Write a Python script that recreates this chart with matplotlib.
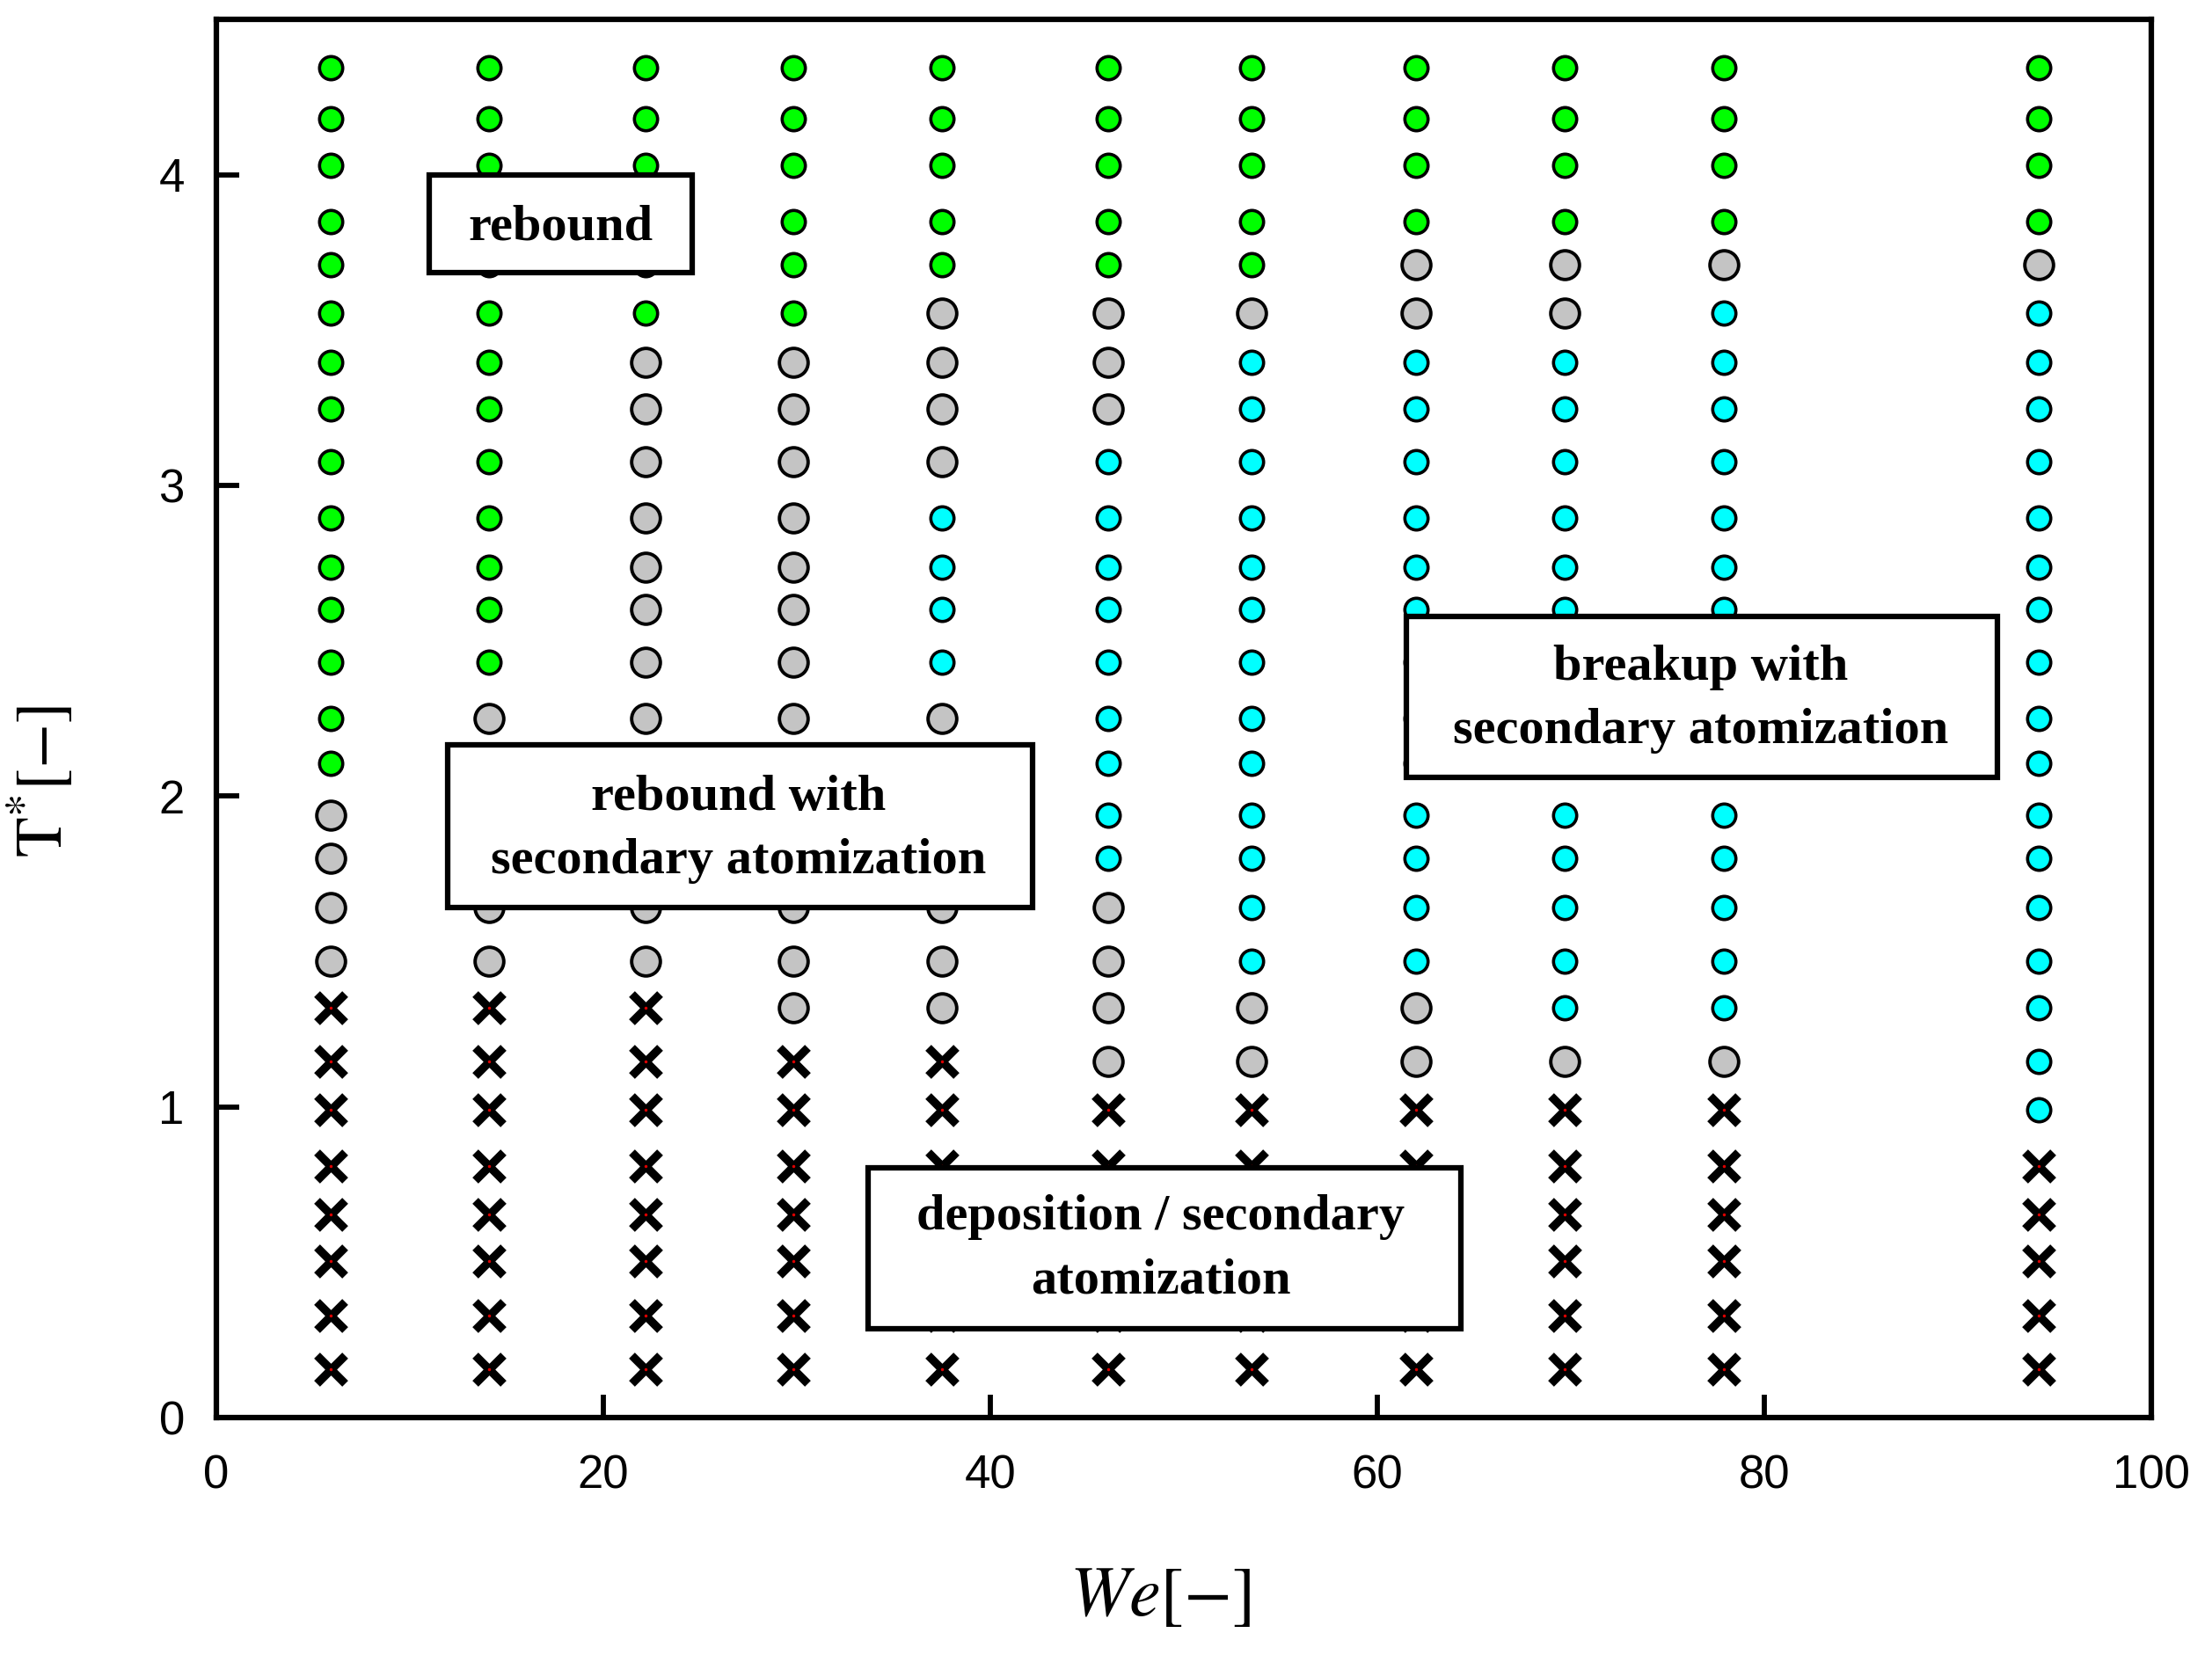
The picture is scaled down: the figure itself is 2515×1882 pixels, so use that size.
import matplotlib
matplotlib.use("Agg")
import matplotlib.pyplot as plt
from matplotlib.patches import Rectangle
import numpy as np

plt.rcParams['mathtext.fontset'] = 'stix'

# ---- data ----
we_values = [5.9, 14.1, 22.2, 29.8, 37.5, 46.1, 53.5, 62.0, 69.7, 77.9, 94.2]
t_values = [4.345, 4.18, 4.03, 3.85, 3.71, 3.555, 3.395, 3.245, 3.077, 2.895,
            2.736, 2.60, 2.43, 2.25, 2.105, 1.94, 1.80, 1.64, 1.47, 1.32,
            1.145, 0.99, 0.81, 0.655, 0.505, 0.327, 0.155]
# G = rebound, S = rebound with secondary atomization,
# C = breakup with secondary atomization, X = deposition / secondary atomization
regimes = [
    "GGGGGGGGGGGGGGG" + "SSSS" + "XXXXXXXX",           # 5.9
    "GGGGGGGGGGGGG" + "SSSSSS" + "XXXXXXXX",           # 14.1
    "GGGGGG" + "SSSSSSSSSSSSS" + "XXXXXXXX",           # 22.2
    "GGGGGG" + "SSSSSSSSSSSSSS" + "XXXXXXX",           # 29.8
    "GGGGG" + "SSSS" + "CCCC" + "SSSSSSS" + "XXXXXXX", # 37.5
    "GGGGG" + "SSS" + "CCCCCCCCC" + "SSSS" + "XXXXXX", # 46.1
    "GGGGG" + "S" + "CCCCCCCCCCCCC" + "SS" + "XXXXXX", # 53.5
    "GGGG" + "SS" + "CCCCCCCCCCCCC" + "SS" + "XXXXXX", # 62.0
    "GGGG" + "SS" + "CCCCCCCCCCCCCC" + "S" + "XXXXXX", # 69.7
    "GGGG" + "S" + "CCCCCCCCCCCCCCC" + "S" + "XXXXXX", # 77.9
    "GGGG" + "S" + "CCCCCCCCCCCCCCCCC" + "XXXXX",      # 94.2
]
region_labels = ["rebound", "rebound with\nsecondary atomization",
                 "breakup with\nsecondary atomization",
                 "deposition / secondary\natomization"]
x_ticks = [0, 20, 40, 60, 80, 100]
y_ticks = [0, 1, 2, 3, 4]

# ---- figure ----
fig = plt.figure(figsize=(25.15, 18.82), dpi=100)
ax = fig.add_axes([0.0978, 0.1435, 0.8748, 0.8448])

pts = {k: ([], []) for k in "GSCX"}
for we, col in zip(we_values, regimes):
    for t, r in zip(t_values, col):
        pts[r][0].append(we)
        pts[r][1].append(t)

ax.plot(pts["G"][0], pts["G"][1], 'o', ms=19, mfc='#00FF00', mec='black', mew=2.6, ls='none', zorder=3)
ax.plot(pts["S"][0], pts["S"][1], 'o', ms=23.5, mfc='#C4C4C4', mec='black', mew=2.8, ls='none', zorder=3)
ax.plot(pts["C"][0], pts["C"][1], 'o', ms=19, mfc='#00FFFF', mec='black', mew=2.6, ls='none', zorder=3)
ax.plot(pts["X"][0], pts["X"][1], 'x', ms=23, mec='black', mew=6.8, ls='none', zorder=3)
ax.plot(pts["X"][0], pts["X"][1], '.', ms=3, color='#DD0000', ls='none', zorder=4)

# region boxes
boxes = [(11.0, 3.686, 13.6, 0.314, 17.8, 3.830),
         (11.95, 1.641, 30.25, 0.523, 27.0, 1.893),
         (61.5, 2.059, 30.55, 0.518, 76.7, 2.313),
         (33.67, 0.286, 30.63, 0.519, 48.8, 0.543)]
for (x0, y0, w, h, tx, ty), lab in zip(boxes, region_labels):
    ax.add_patch(Rectangle((x0, y0), w, h, facecolor='white', edgecolor='black',
                           lw=4.5, zorder=5))
    ax.text(tx, ty, lab, ha='center', va='center', fontsize=42,
            family='Liberation Serif', fontweight='bold', linespacing=1.5, zorder=6)

ax.set_xlim(0, 100)
ax.set_ylim(0, 4.5)
ax.set_xticks(x_ticks)
ax.set_yticks(y_ticks)
ax.tick_params(direction='in', length=19, width=4.2, labelsize=38, pad=26)
ax.tick_params(axis='x', pad=30)
for lab in ax.get_xticklabels() + ax.get_yticklabels():
    lab.set_family('Liberation Sans')
for s in ax.spines.values():
    s.set_linewidth(4.5)

ax.set_xlabel(r'$We[-]$', fontsize=58)
ax.xaxis.set_label_coords(0.488, -0.103)
ax.set_ylabel(r'$\mathrm{T}^{*}[-]$', fontsize=54)
ax.yaxis.set_label_coords(-0.072, 0.455)

fig.savefig("out.png", dpi=100)
